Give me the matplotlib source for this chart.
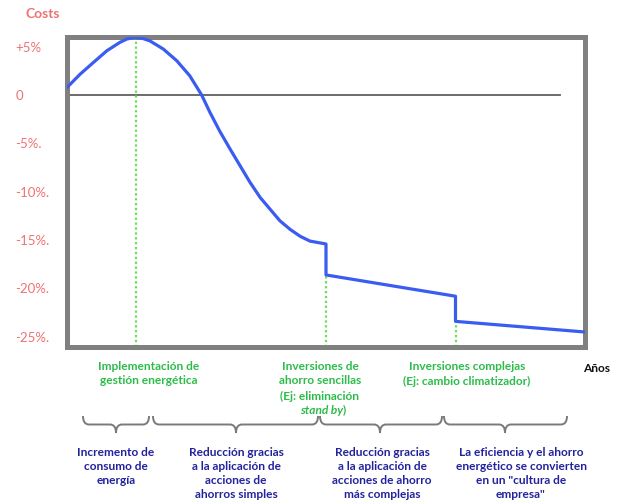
import matplotlib
matplotlib.use("Agg")
import matplotlib.pyplot as plt
from matplotlib.path import Path
from matplotlib.patches import PathPatch

# ---- data ----
years = [0.0, 0.25, 0.51, 0.77, 1.02, 1.16, 1.31, 1.45, 1.6, 1.86, 2.12, 2.37,
         2.6, 2.76, 2.95, 3.15, 3.34, 3.53, 3.73, 3.92, 4.11, 4.31, 4.5, 4.69,
         5.0, 5.0, 7.5, 7.5, 10.0]
cost = [0.78, 2.14, 3.37, 4.58, 5.44, 5.8, 5.95, 5.87, 5.6, 4.75, 3.54, 1.99,
        0.0, -1.8, -3.75, -5.6, -7.3, -9.0, -10.6, -11.8, -13.0, -13.9, -14.6, -15.1,
        -15.4, -18.6, -20.8, -23.4, -24.5]
milestone_x = [1.33, 5.0, 7.5]
milestone_y = [5.95, -18.6, -23.4]
ytick_vals = [5, 0, -5, -10, -15, -20, -25]
ytick_labels = ["+5%", "0", "-5%.", "-10%.", "-15%.", "-20%.", "-25%."]
milestone_labels = [
    ["Implementación de", "gestión energética"],
    ["Inversiones de", "ahorro sencillas", "(Ej: eliminación"],
    ["Inversiones complejas", "(Ej: cambio climatizador)"],
]
phase_labels = [
    ["Incremento de", "consumo de", "energía"],
    ["Reducción gracias", "a la aplicación de", "acciones de", "ahorros simples"],
    ["Reducción gracias", "a la aplicación de", "acciones de ahorro", "más complejas"],
    ["La eficiencia y el ahorro", "energético se convierten", "en un \"cultura de", "empresa\""],
]

W, H = 618, 503
FONT = "Lato"
PINK = "#ee7272"
GREEN = "#2dbb4a"
NAVY = "#22229c"
GRAY = "#808080"

fig = plt.figure(figsize=(W / 100, H / 100), dpi=100)
fig.patch.set_facecolor("white")

def fx(px):
    return px / W

def fy(py):
    return 1 - py / H

ax = fig.add_axes([fx(67), fy(347), fx(585) - fx(67), fy(37) - fy(347)])
ax.set_xlim(0, 10)
ax.set_ylim(-26.05, 6.0)

ax.axhline(0, xmin=0, xmax=0.952, color="#606060", lw=1.3, zorder=1)
for mx, my in zip(milestone_x, milestone_y):
    ax.plot([mx, mx], [-26.05, my], color="#66e055", lw=1.6, ls=(0, (1, 1.2)), zorder=1)
ax.plot(years, cost, color="#3a5cf0", lw=2.3, solid_joinstyle="round", zorder=3)

for s in ax.spines.values():
    s.set_color(GRAY)
    s.set_linewidth(3.6)

ax.set_xticks([])
ax.set_yticks(ytick_vals)
ax.set_yticklabels(ytick_labels, fontsize=9.5, color=PINK, family=FONT, ha="left")
ax.tick_params(axis="y", length=0, pad=37)

fig.text(fx(26), fy(14), "Costs", fontsize=10, color=PINK, family=FONT,
         weight="bold", ha="left", va="center")

# milestone labels (green)
green_centers = [149, 320, 467]
green_rows = [366, 381, 396, 410]
for cx, lines in zip(green_centers, milestone_labels):
    for i, line in enumerate(lines):
        fig.text(fx(cx), fy(green_rows[i]), line, fontsize=8.6, color=GREEN,
                 family=FONT, weight="bold", ha="center", va="center")
fig.text(fx(343), fy(green_rows[3]), "stand by", fontsize=8.6, color=GREEN,
         family=FONT, weight="bold", style="italic", ha="right", va="center")
fig.text(fx(343), fy(green_rows[3]), ")", fontsize=8.6, color=GREEN,
         family=FONT, weight="bold", ha="left", va="center")

fig.text(fx(597), fy(369), "Años", fontsize=8.6, color="#111111",
         family=FONT, weight="bold", ha="center", va="center")

# braces
def brace(x0, x1, xt, ytop, ybot, r=6):
    ymid = (ytop + ybot) / 2
    pts = [
        (x0, ytop), (x0, ymid), (x0 + r, ymid),
        (xt - r, ymid), (xt, ymid), (xt, ybot),
        (xt, ymid), (xt + r, ymid),
        (x1 - r, ymid), (x1, ymid), (x1, ytop),
    ]
    codes = [Path.MOVETO, Path.CURVE3, Path.CURVE3,
             Path.LINETO, Path.CURVE3, Path.CURVE3,
             Path.CURVE3, Path.CURVE3,
             Path.LINETO, Path.CURVE3, Path.CURVE3]
    verts = [(fx(a), fy(b)) for a, b in pts]
    fig.add_artist(PathPatch(Path(verts, codes), transform=fig.transFigure,
                             fill=False, edgecolor="#7a7a7a", lw=1.4))

braces = [(83, 149, 116), (153, 318, 236), (320, 442, 380), (444, 567, 505)]
for b in braces:
    brace(b[0], b[1], b[2], 416, 433)

blue_centers = [116, 236, 382, 521]
blue_rows = [452, 466, 480, 494]
for cx, lines in zip(blue_centers, phase_labels):
    for i, line in enumerate(lines):
        fig.text(fx(cx), fy(blue_rows[i]), line, fontsize=8.6, color=NAVY,
                 family=FONT, weight="bold", ha="center", va="center")

fig.savefig("out.png", dpi=100, facecolor="white")
